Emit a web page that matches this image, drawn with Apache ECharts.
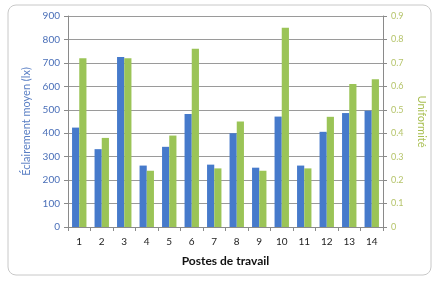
<!DOCTYPE html>
<html>
<head>
<meta charset="utf-8">
<script src="https://cdn.jsdelivr.net/npm/echarts@6/dist/echarts.min.js"></script>
<style>
  html, body { margin: 0; padding: 0; background: #fff; }
  #chart { width: 438px; height: 282px; }
</style>
</head>
<body>
<div id="chart"></div>
<script>
// postes de travail
const postes = ['1', '2', '3', '4', '5', '6', '7', '8', '9', '10', '11', '12', '13', '14']
// éclairement moyen (lx)
const eclairement = [424, 332, 725, 262, 342, 482, 266, 400, 253, 471, 262, 406, 486, 496]
// uniformité
const uniformite = [0.72, 0.38, 0.72, 0.24, 0.39, 0.76, 0.25, 0.45, 0.24, 0.85, 0.25, 0.47, 0.61, 0.63]

const blue = '#467acb'
const green = '#9bc457'
const font = 'Lato'

let myChart = echarts.init(document.getElementById('chart'))

myChart.setOption({
  animation: false,
  textStyle: { fontFamily: font },
  graphic: [{
    type: 'rect',
    shape: { x: 8, y: 5, width: 423, height: 270, r: 8 },
    style: { fill: 'none', stroke: '#c8c8c8', lineWidth: 1 },
    z: -10
  }],
  grid: { left: 68, right: 55, top: 16, bottom: 55 },
  xAxis: {
    type: 'category',
    data: postes,
    name: 'Postes de travail',
    nameLocation: 'middle',
    nameGap: 28,
    nameTextStyle: { color: '#111', fontSize: 12, fontWeight: 'bold', fontFamily: font },
    axisLine: { lineStyle: { color: '#8a8a8a' } },
    axisTick: { show: true, alignWithLabel: false, length: 4, lineStyle: { color: '#8a8a8a' } },
    axisLabel: { color: '#222', fontSize: 10, margin: 10 }
  },
  yAxis: [{
    type: 'value',
    min: 0, max: 900, interval: 100,
    name: 'Éclairement moyen (lx)',
    nameLocation: 'middle',
    nameGap: 33,
    nameTextStyle: { color: '#5a7fc4', fontSize: 11, fontFamily: font },
    axisLine: { show: true, lineStyle: { color: '#8a8a8a' } },
    axisTick: { show: true, length: 4, lineStyle: { color: '#8a8a8a' } },
    axisLabel: { color: '#4a6fb8', fontSize: 10, margin: 8 },
    splitLine: { lineStyle: { color: '#9a9a9a' } }
  }, {
    type: 'value',
    min: 0, max: 0.9, interval: 0.1,
    name: 'Uniformité',
    nameLocation: 'middle',
    nameRotate: -90,
    nameGap: 33,
    nameTextStyle: { color: '#a9bf52', fontSize: 11, fontFamily: font },
    axisLine: { show: true, lineStyle: { color: '#8a8a8a' } },
    axisTick: { show: true, length: 4, lineStyle: { color: '#8a8a8a' } },
    axisLabel: { color: '#b5c46a', fontSize: 9, margin: 8, formatter: v => String(Math.round(v * 10) / 10) },
    splitLine: { show: false }
  }],
  series: [{
    name: 'Éclairement moyen',
    type: 'bar',
    data: eclairement,
    yAxisIndex: 0,
    barGap: '0%',
    barCategoryGap: '36%',
    itemStyle: { color: blue }
  }, {
    name: 'Uniformité',
    type: 'bar',
    data: uniformite,
    yAxisIndex: 1,
    barGap: '0%',
    barCategoryGap: '36%',
    itemStyle: { color: green }
  }]
})
</script>
</body>
</html>
